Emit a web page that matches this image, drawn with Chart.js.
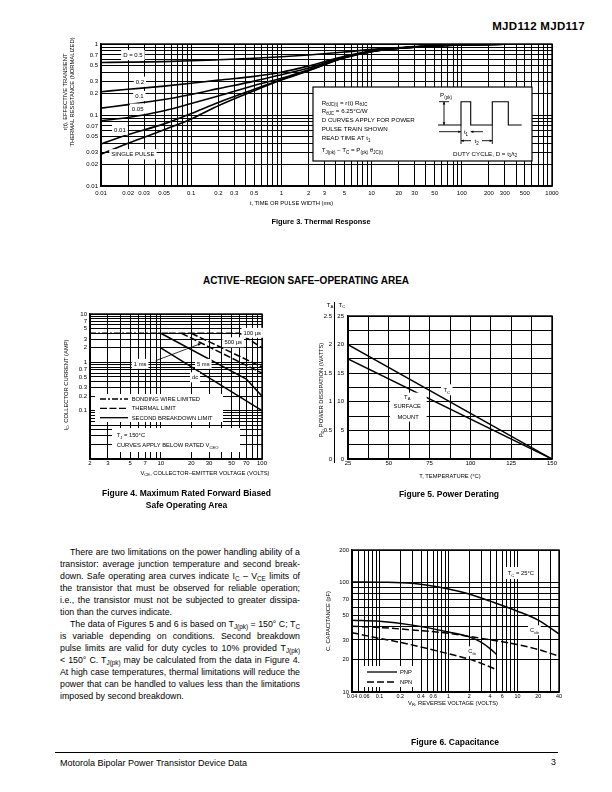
<!DOCTYPE html>
<html>
<head>
<meta charset="utf-8">
<title>MJD112 MJD117</title>
<script src="https://cdn.jsdelivr.net/npm/chart.js@4.4.1/dist/chart.umd.min.js"></script>
<style>
html,body{margin:0;padding:0;background:#fff;}
#page{position:relative;width:612px;height:792px;overflow:hidden;background:#fff;color:#000;font-family:"Liberation Sans",Arial,Helvetica,sans-serif;}
#page canvas{position:absolute;}
.t{position:absolute;white-space:nowrap;line-height:1;}
.c{transform:translate(-50%,-50%);}
.l{transform:translateY(-50%);}
.rot{transform:translate(-50%,-50%) rotate(-90deg);}
.ax{font-size:5.8px;}
.cap{font-size:8.5px;font-weight:bold;}
sub{font-size:72%;vertical-align:-0.28em;line-height:0;}
.p{position:absolute;font-size:8.8px;line-height:12px;white-space:nowrap;}
</style>
</head>
<body>
<div id="page">
  <canvas id="fig3"></canvas>
  <canvas id="fig4"></canvas>
  <canvas id="fig5"></canvas>
  <canvas id="fig6"></canvas>

  <div class="t" style="right:27px;top:27px;transform:translateY(-50%);font-size:11.5px;font-weight:bold;letter-spacing:0.3px;">MJD112 MJD117</div>

  <!-- Figure 3 texts -->
  <div class="t ax rot" style="left:66px;top:92px;">r(t), EFFECTIVE TRANSIENT</div>
  <div class="t ax rot" style="left:73px;top:92px;">THERMAL RESISTANCE (NORMALIZED)</div>
  <div class="t ax c" style="left:291.5px;top:204px;">t, TIME OR PULSE WIDTH (ms)</div>
  <div class="t c" style="left:321px;top:222px;font-size:7.4px;font-weight:bold;">Figure 3. Thermal Response</div>

  <div class="t c" style="left:306px;top:281px;font-size:10px;font-weight:bold;">ACTIVE–REGION SAFE–OPERATING AREA</div>

  <!-- Figure 4 texts -->
  <div class="t ax rot" style="left:67px;top:385px;">I<sub>C</sub>, COLLECTOR CURRENT (AMP)</div>
  <div class="t ax c" style="left:205px;top:474px;">V<sub>CE</sub>, COLLECTOR–EMITTER VOLTAGE (VOLTS)</div>
  <div class="t cap c" style="left:186.5px;top:493px;">Figure 4. Maximum Rated Forward Biased</div>
  <div class="t cap c" style="left:186.5px;top:505px;">Safe Operating Area</div>

  <!-- Figure 5 texts -->
  <div class="t c" style="left:330px;top:305px;font-size:6px;">T<sub>A</sub></div>
  <div class="t c" style="left:342px;top:305px;font-size:6px;">T<sub>C</sub></div>
  <div class="t ax rot" style="left:321.7px;top:390px;">P<sub>D</sub>, POWER DISSIPATION (WATTS)</div>
  <div class="t ax c" style="left:450px;top:476.7px;">T, TEMPERATURE (°C)</div>
  <div class="t cap c" style="left:449px;top:494px;">Figure 5. Power Derating</div>

  <!-- Figure 6 texts -->
  <div class="t ax rot" style="left:329px;top:621px;">C, CAPACITANCE (pF)</div>
  <div class="t ax c" style="left:453px;top:704px;">V<sub>R</sub>, REVERSE VOLTAGE (VOLTS)</div>
  <div class="t cap c" style="left:455px;top:742px;">Figure 6. Capacitance</div>

  <!-- Body text -->
  <div class="p just" data-w="230" style="left:70px;top:545.7px;">There are two limitations on the power handling ability of a</div>
  <div class="p just" data-w="240" style="left:60px;top:557.7px;">transistor: average junction temperature and second break-</div>
  <div class="p just" data-w="240" style="left:60px;top:569.8px;">down. Safe operating area curves indicate I<sub>C</sub> – V<sub>CE</sub> limits of</div>
  <div class="p just" data-w="240" style="left:60px;top:581.8px;">the transistor that must be observed for reliable operation;</div>
  <div class="p just" data-w="240" style="left:60px;top:593.9px;">i.e., the transistor must not be subjected to greater dissipa-</div>
  <div class="p" style="left:60px;top:605.9px;">tion than the curves indicate.</div>
  <div class="p just" data-w="230" style="left:70px;top:617.9px;">The data of Figures 5 and 6 is based on T<sub>J(pk)</sub> = 150° C; T<sub>C</sub></div>
  <div class="p just" data-w="240" style="left:60px;top:630px;">is variable depending on conditions. Second breakdown</div>
  <div class="p just" data-w="240" style="left:60px;top:642px;">pulse limits are valid for duty cycles to 10% provided T<sub>J(pk)</sub></div>
  <div class="p just" data-w="240" style="left:60px;top:654.1px;">&lt; 150° C. T<sub>J(pk)</sub> may be calculated from the data in Figure 4.</div>
  <div class="p just" data-w="240" style="left:60px;top:666.1px;">At high case temperatures, thermal limitations will reduce the</div>
  <div class="p just" data-w="240" style="left:60px;top:678.2px;">power that can be handled to values less than the limitations</div>
  <div class="p" style="left:60px;top:690.2px;">imposed by second breakdown.</div>

  <!-- Footer -->
  <div style="position:absolute;left:55px;top:752px;width:503px;height:0;border-top:1px solid #000;"></div>
  <div class="t l" style="left:60px;top:763px;font-size:9px;">Motorola Bipolar Power Transistor Device Data</div>
  <div class="t l" style="right:56px;top:762px;font-size:9px;">3</div>
</div>

<script>
// ================= DATA =================
// Figure 3 – Thermal response, t in ms, r(t) normalized
const fig3Time   = [0.01, 0.02, 0.05, 0.1, 0.2, 0.5, 1, 2, 5, 10, 20, 50, 100, 300, 1000];
const fig3D05    = [0.55, 0.555, 0.565, 0.58, 0.60, 0.63, 0.66, 0.70, 0.77, 0.84, 0.89, 0.95, 0.975, 0.995, 1.0];
const fig3D02    = [0.213, 0.23, 0.255, 0.28, 0.31, 0.35, 0.40, 0.49, 0.67, 0.80, 0.87, 0.94, 0.97, 0.995, 1.0];
const fig3D01    = [0.125, 0.14, 0.165, 0.195, 0.235, 0.30, 0.37, 0.46, 0.655, 0.79, 0.87, 0.94, 0.97, 0.995, 1.0];
const fig3D005   = [0.083, 0.092, 0.115, 0.145, 0.185, 0.26, 0.33, 0.435, 0.645, 0.785, 0.87, 0.94, 0.97, 0.995, 1.0];
const fig3D001   = [0.039, 0.053, 0.075, 0.105, 0.15, 0.23, 0.315, 0.425, 0.64, 0.78, 0.87, 0.94, 0.97, 0.995, 1.0];
const fig3Single = [0.028, 0.040, 0.062, 0.088, 0.135, 0.22, 0.31, 0.42, 0.64, 0.78, 0.87, 0.94, 0.97, 0.995, 1.0];
const fig3XLabels = [0.01, 0.02, 0.03, 0.05, 0.1, 0.2, 0.3, 0.5, 1, 2, 3, 5, 10, 20, 30, 50, 100, 200, 300, 500, 1000];
const fig3YLabels = [0.01, 0.02, 0.03, 0.05, 0.07, 0.1, 0.2, 0.3, 0.5, 0.7, 1];

// Figure 4 – Safe operating area, VCE (V) vs IC (A)
const fig4XLabels = [2, 3, 5, 7, 10, 20, 30, 50, 70, 100];
const fig4YLabels = [0.1, 0.2, 0.3, 0.5, 0.7, 1, 2, 3, 5, 7, 10];
const fig4ExtraXLabel = 200;
const fig4BondV  = [2, 12];
const fig4BondI  = [4, 4];
const fig4V100us = [12, 60, 100];
const fig4I100us = [4, 4, 2];
const fig4V500us = [20, 100];
const fig4I500us = [4, 0.8];
const fig4V1ms   = [16, 100];
const fig4I1ms   = [4, 0.6];
const fig4V5ms   = [10, 70, 100];
const fig4I5ms   = [4, 0.45, 0.2];
const fig4VDc    = [10, 100];
const fig4IDc    = [2, 0.1];

// Figure 5 – Power derating
const fig5Temp = [25, 150];
const fig5TC   = [20, 0];     // watts, TC scale
const fig5TA   = [1.75, 0];   // watts, TA scale

// Figure 6 – Capacitance, VR (V) vs C (pF)
const fig6XLabels = [0.04, 0.06, 0.1, 0.2, 0.4, 0.6, 1, 2, 4, 6, 10, 20, 40];
const fig6YLabels = [10, 20, 30, 50, 70, 100, 200];
const fig6VPnpCob = [0.04, 0.1, 0.3, 1, 2, 4, 10, 20, 40];
const fig6PnpCob  = [102, 101.5, 99, 88, 79, 68, 55, 45.5, 34];
const fig6VNpnCob = [0.04, 0.1, 0.3, 1, 3, 10, 20, 40];
const fig6NpnCob  = [40, 39, 37, 34.5, 31, 27.2, 24.5, 21.3];
const fig6VPnpCib = [0.04, 0.1, 0.3, 1, 2, 3, 4, 5];
const fig6PnpCib  = [45.5, 44.5, 41, 35.5, 32, 28.5, 25, 22];
const fig6VNpnCib = [0.04, 0.1, 0.2, 0.5, 1, 2, 3, 5];
const fig6NpnCib  = [35, 31, 28.5, 25, 22.4, 20, 18.3, 16];

// ================= HELPERS =================
const FONT = '"Liberation Sans", Arial, Helvetica, sans-serif';
Chart.defaults.font.family = FONT;
Chart.defaults.font.size = 6;
Chart.defaults.color = '#000';

function pts(xs, ys) { return xs.map((x, i) => ({x: x, y: ys[i]})); }
function logGrid(min, max) {
  const out = [];
  for (let e = Math.floor(Math.log10(min)); e <= Math.ceil(Math.log10(max)); e++) {
    for (let m = 1; m < 10; m++) {
      const v = +(m * Math.pow(10, e)).toPrecision(6);
      if (v >= min * 0.9999 && v <= max * 1.0001) out.push(v);
    }
  }
  return out;
}
function labelFmt(list) {
  return function (value) {
    const v = +Number(value).toPrecision(6);
    const hit = list.find(l => Math.abs(l - v) <= 1e-9 * Math.max(1, Math.abs(l)));
    return hit !== undefined ? String(hit) : '';
  };
}
const GRID = {color: '#000', lineWidth: 1, drawTicks: false};
const BORDER = {display: true, color: '#000', width: 1.4};
function logAxis(min, max, labels, padding, fit, fsz) {
  return {
    type: 'logarithmic', min: min, max: max,
    afterBuildTicks: s => { s.ticks = logGrid(min, max).map(v => ({value: v})); },
    ticks: {autoSkip: false, maxRotation: 0, minRotation: 0, padding: padding, font: {size: fsz || 6}, callback: labelFmt(labels)},
    grid: GRID, border: BORDER, afterFit: fit
  };
}
function place(id, box) {
  const c = document.getElementById(id);
  c.width = box.w; c.height = box.h;
  c.style.left = box.x + 'px'; c.style.top = box.y + 'px';
  c.style.width = box.w + 'px'; c.style.height = box.h + 'px';
  return c;
}
function padFor(box, area, yW, xH) {
  return {left: area.l - box.x - yW, top: area.t - box.y, right: box.x + box.w - area.r, bottom: box.y + box.h - area.b - xH};
}
function font(sz) { return sz + 'px ' + FONT; }
function richWidth(ctx, segs, fs) {
  let w = 0;
  for (const s of segs) { ctx.font = font(s[1] ? fs * 0.72 : fs); w += ctx.measureText(s[0]).width; }
  return w;
}
function drawRich(ctx, x, y, segs, fs, align) {
  const w = richWidth(ctx, segs, fs);
  let cx = align === 'center' ? x - w / 2 : (align === 'right' ? x - w : x);
  ctx.textAlign = 'left'; ctx.textBaseline = 'alphabetic';
  const base = y + fs * 0.36;
  for (const s of segs) {
    const f = s[1] ? fs * 0.72 : fs;
    ctx.font = font(f);
    ctx.fillText(s[0], cx, base + (s[1] ? fs * 0.3 : 0));
    cx += ctx.measureText(s[0]).width;
  }
  return w;
}
function labelBox(ctx, x, y, segs, fs, padX, padY) {
  padX = padX === undefined ? 2 : padX; padY = padY === undefined ? 1.5 : padY;
  const w = richWidth(ctx, segs, fs);
  ctx.fillStyle = '#fff';
  ctx.fillRect(x - w / 2 - padX, y - fs * 0.6 - padY, w + 2 * padX, fs * 1.2 + 2 * padY);
  ctx.fillStyle = '#000';
  drawRich(ctx, x, y, segs, fs, 'center');
}
function arrow(ctx, x1, y1, x2, y2, h) {
  h = h || 3;
  ctx.beginPath(); ctx.moveTo(x1, y1); ctx.lineTo(x2, y2); ctx.stroke();
  const ang = Math.atan2(y2 - y1, x2 - x1);
  ctx.beginPath(); ctx.moveTo(x2, y2);
  ctx.lineTo(x2 - h * Math.cos(ang - 0.45), y2 - h * Math.sin(ang - 0.45));
  ctx.lineTo(x2 - h * Math.cos(ang + 0.45), y2 - h * Math.sin(ang + 0.45));
  ctx.closePath(); ctx.fill();
}
function frame(ctx, a) {
  ctx.strokeStyle = '#000'; ctx.lineWidth = 1.4; ctx.setLineDash([]);
  ctx.strokeRect(a.left, a.top, a.right - a.left, a.bottom - a.top);
}
function ds(data, extra) {
  return Object.assign({data: data, borderColor: '#000', borderWidth: 1.5, pointRadius: 0, pointHoverRadius: 0, fill: false, tension: 0}, extra || {});
}
const BASE = {responsive: false, animation: false, events: [], plugins: {legend: {display: false}, tooltip: {enabled: false}}};

// ================= FIGURE 3 =================
(function () {
  const box = {x: 50, y: 34, w: 516, h: 172};
  const area = {l: 101, t: 44, r: 552, b: 186};
  const yW = 40, xH = 14;
  const c = place('fig3', box);
  const smooth = {cubicInterpolationMode: 'monotone', borderWidth: 1.6};
  const ann = {
    id: 'fig3ann',
    afterDatasetsDraw(chart) {
      const {ctx, chartArea: a, scales: {x, y}} = chart;
      ctx.save();
      frame(ctx, a);
      const fs = 6;
      const L = (t, r, segs) => labelBox(ctx, x.getPixelForValue(t), y.getPixelForValue(r), segs, fs);
      L(0.0226, 0.70, [['D = 0.5']]);
      L(0.027, 0.294, [['0.2']]);
      L(0.0266, 0.185, [['0.1']]);
      L(0.0255, 0.123, [['0.05']]);
      L(0.0162, 0.0616, [['0.01']]);
      L(0.0226, 0.028, [['SINGLE PULSE']]);
      // information box
      const bx = a.left + 212, by = a.top + 43, bw = 219, bh = 74;
      ctx.fillStyle = '#fff'; ctx.fillRect(bx, by, bw, bh);
      ctx.strokeStyle = '#000'; ctx.lineWidth = 1.2; ctx.strokeRect(bx, by, bw, bh);
      ctx.fillStyle = '#000';
      const f2 = 6.2, tx = bx + 8.7;
      drawRich(ctx, tx, by + 15.3, [['R'], ['θJC(t)', 1], [' = r(t) R'], ['θJC', 1]], f2, 'left');
      drawRich(ctx, tx, by + 23.7, [['R'], ['θJC', 1], [' = 6.25°C/W']], f2, 'left');
      drawRich(ctx, tx, by + 32.3, [['D CURVES APPLY FOR POWER']], f2, 'left');
      drawRich(ctx, tx, by + 41.7, [['PULSE TRAIN SHOWN']], f2, 'left');
      drawRich(ctx, tx, by + 51, [['READ TIME AT t'], ['1', 1]], f2, 'left');
      drawRich(ctx, tx, by + 63, [['T'], ['J(pk)', 1], [' – T'], ['C', 1], [' = P'], ['(pk)', 1], [' θ'], ['JC(t)', 1]], f2, 'left');
      // pulse train
      const b0 = by + 38, b1 = by + 14.7;
      ctx.lineWidth = 1.1; ctx.beginPath();
      ctx.moveTo(bx + 125, b0); ctx.lineTo(bx + 148, b0); ctx.lineTo(bx + 148, b1); ctx.lineTo(bx + 157.7, b1);
      ctx.lineTo(bx + 157.7, b0); ctx.lineTo(bx + 179.3, b0); ctx.lineTo(bx + 179.3, b1); ctx.lineTo(bx + 195.3, b1);
      ctx.lineTo(bx + 195.3, b0); ctx.lineTo(bx + 208.7, b0); ctx.stroke();
      drawRich(ctx, bx + 133, by + 8, [['P'], ['(pk)', 1]], f2, 'center');
      ctx.lineWidth = 0.9;
      arrow(ctx, bx + 131, by + 26, bx + 131, b1, 3);
      arrow(ctx, bx + 131, by + 26, bx + 131, b0, 3);
      ctx.beginPath(); ctx.moveTo(bx + 126, b1); ctx.lineTo(bx + 136, b1); ctx.stroke();
      // t1
      arrow(ctx, bx + 126, by + 44.7, bx + 148, by + 44.7, 3);
      arrow(ctx, bx + 170, by + 44.7, bx + 157.7, by + 44.7, 3);
      drawRich(ctx, bx + 153, by + 44.7, [['t'], ['1', 1]], f2, 'center');
      // t2
      ctx.beginPath(); ctx.moveTo(bx + 148, b0); ctx.lineTo(bx + 148, by + 57); ctx.moveTo(bx + 179.3, b0); ctx.lineTo(bx + 179.3, by + 57); ctx.stroke();
      arrow(ctx, bx + 158, by + 53.7, bx + 148, by + 53.7, 3);
      arrow(ctx, bx + 169, by + 53.7, bx + 179.3, by + 53.7, 3);
      drawRich(ctx, bx + 163.7, by + 53.7, [['t'], ['2', 1]], f2, 'center');
      drawRich(ctx, bx + 140, by + 66.3, [['DUTY CYCLE, D = t'], ['1', 1], ['/t'], ['2', 1]], f2, 'left');
      ctx.restore();
    }
  };
  new Chart(c, {
    type: 'line',
    data: {datasets: [
      ds(pts(fig3Time, fig3D05), smooth),
      ds(pts(fig3Time, fig3D02), smooth),
      ds(pts(fig3Time, fig3D01), smooth),
      ds(pts(fig3Time, fig3D005), smooth),
      ds(pts(fig3Time, fig3D001), smooth),
      ds(pts(fig3Time, fig3Single), smooth)
    ]},
    options: Object.assign({}, BASE, {
      layout: {padding: padFor(box, area, yW, xH)},
      scales: {
        x: logAxis(0.01, 1000, fig3XLabels, 4, s => { s.height = xH; }),
        y: logAxis(0.01, 1, fig3YLabels, 3, s => { s.width = yW; })
      }
    }),
    plugins: [ann]
  });
})();

// ================= FIGURE 4 =================
(function () {
  const box = {x: 40, y: 304, w: 236, h: 172};
  const area = {l: 90, t: 314, r: 262, b: 459};
  const yW = 30, xH = 10;
  const c = place('fig4', box);
  const BOND = [6, 2, 2, 2], THERM = [7, 2.5];
  const ann = {
    id: 'fig4ann',
    afterDatasetsDraw(chart) {
      const {ctx, chartArea: a, scales: {x, y}} = chart;
      ctx.save();
      frame(ctx, a);
      const fs = 5.8;
      const L = (v, i, segs) => labelBox(ctx, x.getPixelForValue(v), y.getPixelForValue(i), segs, fs);
      L(80, 4.08, [['100 µs']]);
      L(52, 2.6, [['500 µs']]);
      L(6.25, 0.93, [['1 ms']]);
      L(26.3, 0.93, [['5 ms']]);
      L(21.8, 0.49, [['dc']]);
      ctx.fillStyle = '#000'; ctx.strokeStyle = '#000'; ctx.lineWidth = 0.8;
      arrow(ctx, x.getPixelForValue(8.9), y.getPixelForValue(1.08), x.getPixelForValue(25), y.getPixelForValue(2.45), 3.5);
      // legend
      const lx = a.left, ly = a.top;
      ctx.fillStyle = '#fff'; ctx.fillRect(lx + 5, ly + 80, 128, 28);
      const rows = [[85, BOND, 'BONDING WIRE LIMITED'], [94.3, THERM, 'THERMAL LIMIT'], [103.7, [], 'SECOND BREAKDOWN LIMIT']];
      ctx.fillStyle = '#000';
      for (const r of rows) {
        ctx.lineWidth = 1.3; ctx.setLineDash(r[1]);
        ctx.beginPath(); ctx.moveTo(lx + 10, ly + r[0]); ctx.lineTo(lx + 38, ly + r[0]); ctx.stroke();
        ctx.setLineDash([]);
        drawRich(ctx, lx + 41.7, ly + r[0], [[r[2]]], fs, 'left');
      }
      ctx.fillStyle = '#fff'; ctx.fillRect(lx + 22, ly + 114, 128, 24);
      ctx.fillStyle = '#000';
      drawRich(ctx, lx + 26.7, ly + 121, [['T'], ['J', 1], [' = 150°C']], fs, 'left');
      drawRich(ctx, lx + 26.7, ly + 131, [['CURVES APPLY BELOW RATED V'], ['CEO', 1]], fs, 'left');
      // extra tick label past the last grid line
      const dec = x.getPixelForValue(100) - x.getPixelForValue(10);
      const px = x.getPixelForValue(100) + dec * Math.log10(fig4ExtraXLabel / 100);
      ctx.font = font(6); ctx.textAlign = 'center'; ctx.textBaseline = 'middle';
      ctx.fillText(String(fig4ExtraXLabel), px, a.bottom + 1 + 3.6);
      ctx.restore();
    }
  };
  new Chart(c, {
    type: 'line',
    data: {datasets: [
      ds(pts(fig4BondV, fig4BondI), {borderDash: BOND}),
      ds(pts(fig4V100us, fig4I100us), {borderDash: THERM}),
      ds(pts(fig4V500us, fig4I500us), {borderDash: THERM}),
      ds(pts(fig4V1ms, fig4I1ms), {borderDash: THERM}),
      ds(pts(fig4V5ms, fig4I5ms)),
      ds(pts(fig4VDc, fig4IDc))
    ]},
    options: Object.assign({}, BASE, {
      layout: {padding: padFor(box, area, yW, xH)},
      scales: {
        x: logAxis(2, 100, fig4XLabels, 1, s => { s.height = xH; }),
        y: logAxis(0.01, 10, fig4YLabels, 3, s => { s.width = yW; })
      }
    }),
    plugins: [ann]
  });
})();

// ================= FIGURE 5 =================
(function () {
  const box = {x: 300, y: 300, w: 266, h: 175};
  const area = {l: 348, t: 316, r: 552, b: 459};
  const wC = 13, wA = 22, xH = 10;
  const c = place('fig5', box);
  const ann = {
    id: 'fig5ann',
    afterDatasetsDraw(chart) {
      const {ctx, chartArea: a, scales: {x, y}} = chart;
      ctx.save();
      frame(ctx, a);
      ctx.lineWidth = 1; ctx.strokeStyle = '#000';
      ctx.beginPath(); ctx.moveTo(a.left - wC - 0.5, a.top - 14); ctx.lineTo(a.left - wC - 0.5, a.bottom + 4); ctx.stroke();
      const fs = 5.8;
      labelBox(ctx, x.getPixelForValue(85.5), y.getPixelForValue(12.1), [['T'], ['C', 1]], fs, 2.5, 2);
      const x0 = x.getPixelForValue(50.7), x1 = x.getPixelForValue(73.2);
      const y0 = y.getPixelForValue(11.6), y1 = y.getPixelForValue(6.55);
      ctx.fillStyle = '#fff'; ctx.fillRect(x0, y0, x1 - x0, y1 - y0);
      ctx.fillStyle = '#000';
      drawRich(ctx, x.getPixelForValue(61.3), y.getPixelForValue(10.9), [['T'], ['A', 1]], fs, 'center');
      drawRich(ctx, x.getPixelForValue(61.3), y.getPixelForValue(9.2), [['SURFACE']], fs, 'center');
      drawRich(ctx, x.getPixelForValue(61.8), y.getPixelForValue(7.3), [['MOUNT']], fs, 'center');
      ctx.restore();
    }
  };
  new Chart(c, {
    type: 'line',
    data: {datasets: [
      ds(pts(fig5Temp, fig5TC), {yAxisID: 'y'}),
      ds(pts(fig5Temp, fig5TA), {yAxisID: 'yA'})
    ]},
    options: Object.assign({}, BASE, {
      layout: {padding: padFor(box, area, wC + wA, xH)},
      scales: {
        x: {type: 'linear', min: 25, max: 150,
            ticks: {stepSize: 12.5, autoSkip: false, maxRotation: 0, padding: 1, font: {size: 6}, callback: v => (v % 25 === 0 ? String(v) : '')},
            grid: GRID, border: BORDER, afterFit: s => { s.height = xH; }},
        y: {type: 'linear', position: 'left', weight: 0, min: 0, max: 25,
            ticks: {stepSize: 2.5, autoSkip: false, padding: 4, font: {size: 6}, callback: v => (v % 5 === 0 ? String(v) : '')},
            grid: GRID, border: BORDER, afterFit: s => { s.width = wC; }},
        yA: {type: 'linear', position: 'left', weight: 1, min: 0, max: 2.5,
            ticks: {stepSize: 0.5, autoSkip: false, padding: 3, font: {size: 6}, callback: v => String(v)},
            grid: {display: false, drawTicks: false}, border: {display: false}, afterFit: s => { s.width = wA; }}
      }
    }),
    plugins: [ann]
  });
})();

// ================= FIGURE 6 =================
(function () {
  const box = {x: 310, y: 540, w: 265, h: 165};
  const area = {l: 352, t: 550, r: 559, b: 692};
  const yW = 25, xH = 9;
  const c = place('fig6', box);
  const smooth = {cubicInterpolationMode: 'monotone', borderWidth: 1.5};
  const DASH = [7, 3];
  const ann = {
    id: 'fig6ann',
    afterDatasetsDraw(chart) {
      const {ctx, chartArea: a, scales: {x, y}} = chart;
      ctx.save();
      frame(ctx, a);
      const fs = 5.8;
      labelBox(ctx, x.getPixelForValue(11.2), y.getPixelForValue(123), [['T'], ['C', 1], [' = 25°C']], fs, 3, 2.5);
      labelBox(ctx, x.getPixelForValue(17.6), y.getPixelForValue(36.8), [['C'], ['ob', 1]], fs, 2, 1.5);
      labelBox(ctx, x.getPixelForValue(2.2), y.getPixelForValue(23.6), [['C'], ['ib', 1]], fs, 2, 1.5);
      const lx = a.left, ly = a.top;
      ctx.fillStyle = '#fff'; ctx.fillRect(lx + 8, ly + 116, 60, 21);
      ctx.fillStyle = '#000'; ctx.strokeStyle = '#000'; ctx.lineWidth = 1.3;
      ctx.setLineDash([]);
      ctx.beginPath(); ctx.moveTo(lx + 15, ly + 122); ctx.lineTo(lx + 45, ly + 122); ctx.stroke();
      ctx.setLineDash(DASH);
      ctx.beginPath(); ctx.moveTo(lx + 15, ly + 132); ctx.lineTo(lx + 45, ly + 132); ctx.stroke();
      ctx.setLineDash([]);
      drawRich(ctx, lx + 48, ly + 122, [['PNP']], fs, 'left');
      drawRich(ctx, lx + 48, ly + 132, [['NPN']], fs, 'left');
      ctx.restore();
    }
  };
  new Chart(c, {
    type: 'line',
    data: {datasets: [
      ds(pts(fig6VPnpCob, fig6PnpCob), smooth),
      ds(pts(fig6VNpnCob, fig6NpnCob), Object.assign({borderDash: DASH}, smooth)),
      ds(pts(fig6VPnpCib, fig6PnpCib), smooth),
      ds(pts(fig6VNpnCib, fig6NpnCib), Object.assign({borderDash: DASH}, smooth))
    ]},
    options: Object.assign({}, BASE, {
      layout: {padding: padFor(box, area, yW, xH)},
      scales: {
        x: logAxis(0.04, 40, fig6XLabels, 1.5, s => { s.height = xH; }, 5.4),
        y: logAxis(10, 200, fig6YLabels, 3, s => { s.width = yW; }, 5.8)
      }
    }),
    plugins: [ann]
  });
})();

// ================= justify body text =================
document.querySelectorAll('.just').forEach(el => {
  const target = parseFloat(el.dataset.w);
  el.style.wordSpacing = '0px';
  const w = el.getBoundingClientRect().width;
  const n = (el.textContent.match(/ /g) || []).length;
  if (n > 0) el.style.wordSpacing = ((target - w) / n) + 'px';
});
</script>
</body>
</html>
